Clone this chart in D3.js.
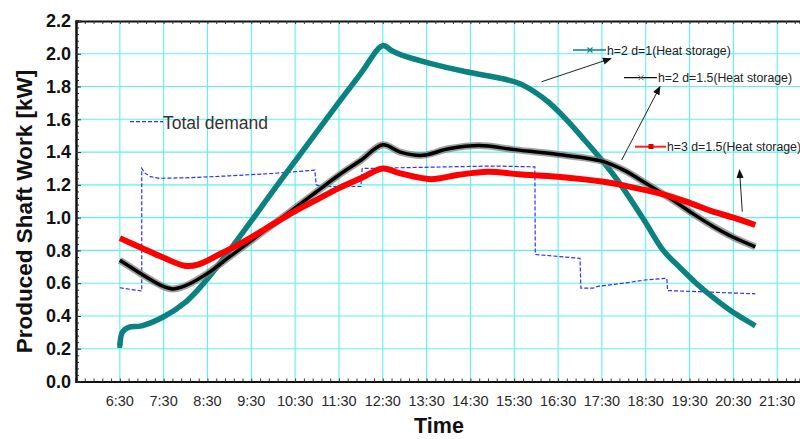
<!DOCTYPE html>
<html>
<head>
<meta charset="utf-8">
<script src="https://cdn.jsdelivr.net/npm/d3@7"></script>
<style>
  html, body { margin: 0; padding: 0; background: #fff; }
  svg { display: block; font-family: "Liberation Sans", Arial, sans-serif; }
</style>
</head>
<body>
<svg id="chart" width="800" height="439"></svg>
<script>
// ---- data (time in decimal hours, values in kW) ----
const xTickHours = [6.5, 7.5, 8.5, 9.5, 10.5, 11.5, 12.5, 13.5, 14.5, 15.5, 16.5, 17.5, 18.5, 19.5, 20.5, 21.5];
const xTickLabels = ["6:30","7:30","8:30","9:30","10:30","11:30","12:30","13:30","14:30","15:30","16:30","17:30","18:30","19:30","20:30","21:30"];
const yTicks = [0.0, 0.2, 0.4, 0.6, 0.8, 1.0, 1.2, 1.4, 1.6, 1.8, 2.0, 2.2];

const tealSeries = [[6.5,0.22],[6.53,0.28],[6.57,0.305],[6.7,0.33],[7.0,0.34],[7.5,0.395],[8.0,0.485],[8.35,0.58],[8.72,0.70],[9.1,0.835],[9.5,0.98],[10.0,1.165],[10.5,1.345],[11.0,1.525],[11.5,1.705],[12.0,1.88],[12.5,2.05],[12.7,2.02],[12.95,1.99],[13.6,1.94],[14.4,1.89],[15.2,1.85],[15.6,1.82],[15.95,1.77],[16.3,1.70],[16.7,1.595],[17.05,1.49],[17.5,1.35],[17.85,1.23],[18.45,0.99],[18.9,0.80],[19.3,0.69],[19.65,0.60],[20.05,0.51],[20.45,0.43],[20.75,0.38],[21.0,0.34]];

const blackSeries = [[6.5,0.74],[7.0,0.655],[7.45,0.585],[7.7,0.565],[8.0,0.585],[8.5,0.66],[9.0,0.76],[9.5,0.86],[10.0,0.96],[10.5,1.06],[11.0,1.16],[11.5,1.26],[12.0,1.35],[12.5,1.445],[12.9,1.40],[13.4,1.38],[14.0,1.42],[14.7,1.44],[15.5,1.415],[16.5,1.385],[17.5,1.345],[18.0,1.29],[18.5,1.21],[19.1,1.11],[19.6,1.02],[20.05,0.945],[20.5,0.88],[21.0,0.822]];

const redSeries = [[6.5,0.875],[7.0,0.815],[7.5,0.755],[8.0,0.705],[8.3,0.715],[8.8,0.78],[9.1,0.82],[9.5,0.88],[10.0,0.96],[10.5,1.04],[11.0,1.11],[11.5,1.18],[12.0,1.24],[12.5,1.30],[12.9,1.27],[13.6,1.235],[14.2,1.26],[14.9,1.28],[15.6,1.265],[16.5,1.25],[17.5,1.22],[18.2,1.185],[19.0,1.135],[19.5,1.09],[20.0,1.04],[20.5,1.0],[21.0,0.955]];

const demandSeries = [[6.5,0.572],[7.0,0.552],[7.0,1.30],[7.08,1.27],[7.2,1.25],[7.4,1.24],[8.0,1.243],[9.0,1.255],[10.0,1.27],[10.95,1.29],[10.98,1.20],[11.1,1.19],[12.0,1.19],[12.03,1.30],[13.0,1.305],[14.0,1.31],[15.0,1.315],[15.97,1.31],[15.98,0.775],[17.0,0.752],[17.02,0.57],[17.3,0.57],[17.4,0.58],[18.0,0.60],[18.5,0.62],[18.98,0.63],[19.0,0.555],[20.0,0.545],[21.0,0.535]];

const seriesNames = ["h=2 d=1(Heat storage)", "h=2 d=1.5(Heat storage)", "h=3 d=1.5(Heat storage)", "Total demand"];

// ---- layout ----
const svg = d3.select("#chart");
const L = 76, T = 21, R = 800, B = 381.5;
const x = d3.scaleLinear().domain([5.5, 22.02]).range([L, R]);
const y = d3.scaleLinear().domain([0, 2.2]).range([B, T]);

svg.append("defs").append("clipPath").attr("id", "clip")
  .append("rect").attr("x", L).attr("y", T).attr("width", R - L).attr("height", B - T);
const mk = svg.select("defs").append("marker").attr("id", "arrow")
  .attr("viewBox", "0 0 10 10").attr("refX", 9).attr("refY", 5)
  .attr("markerWidth", 9).attr("markerHeight", 9).attr("markerUnits", "userSpaceOnUse")
  .attr("orient", "auto");
mk.append("path").attr("d", "M0,1 L10,5 L0,9 Z").attr("fill", "#111");

// grid
const grid = svg.append("g");
grid.selectAll("line.v").data(xTickHours).enter().append("line")
  .attr("x1", d => x(d)).attr("x2", d => x(d)).attr("y1", T).attr("y2", B)
  .attr("stroke", "#5ff0f0").attr("stroke-width", 1.1);
grid.selectAll("line.h").data(yTicks.slice(1, -1)).enter().append("line")
  .attr("x1", L).attr("x2", R).attr("y1", d => y(d)).attr("y2", d => y(d))
  .attr("stroke", "#5ff0f0").attr("stroke-width", 1.1);

// axes with inward ticks
const bottomAxis = d3.axisBottom(x).tickValues(d3.range(5.5, 22.01, 0.2)).tickSize(-3).tickFormat("");
const topAxis = d3.axisTop(x).tickValues(d3.range(5.5, 22.01, 0.2)).tickSize(-3).tickFormat("");
const leftMinor = d3.axisLeft(y).tickValues(d3.range(0, 2.201, 0.04)).tickSize(-3).tickFormat("");
const leftMajor = d3.axisLeft(y).tickValues(yTicks).tickSize(-5).tickFormat(d3.format(".1f")).tickPadding(5);

const gB = svg.append("g").attr("transform", `translate(0,${B})`).call(bottomAxis);
const gT = svg.append("g").attr("transform", `translate(0,${T})`).call(topAxis);
const gLm = svg.append("g").attr("transform", `translate(${L},0)`).call(leftMinor);
const gL = svg.append("g").attr("transform", `translate(${L},0)`).call(leftMajor);
[gB, gT, gLm, gL].forEach(g => {
  g.select(".domain").attr("stroke", "#111").attr("stroke-width", 2);
  g.selectAll(".tick line").attr("stroke", "#333").attr("stroke-width", 1);
});
gL.selectAll(".tick text").attr("font-size", 18).attr("font-weight", "bold")
  .attr("fill", "#111").attr("font-family", "Liberation Sans, Arial, sans-serif");

// x tick labels
svg.append("g").selectAll("text").data(xTickHours).enter().append("text")
  .attr("x", d => x(d)).attr("y", 406).attr("text-anchor", "middle")
  .attr("font-size", 14.5).attr("fill", "#2a2a2a")
  .text((d, i) => xTickLabels[i]);

// axis titles
svg.append("text").attr("transform", "translate(32,211.5) rotate(-90)")
  .attr("text-anchor", "middle").attr("font-size", 22.5).attr("font-weight", "bold")
  .attr("fill", "#111").text("Produced Shaft Work [kW]");
svg.append("text").attr("x", 439).attr("y", 433).attr("text-anchor", "middle")
  .attr("font-size", 21.5).attr("font-weight", "bold").attr("fill", "#111").text("Time");

// series
const plot = svg.append("g").attr("clip-path", "url(#clip)");
const smooth = d3.line().x(d => x(d[0])).y(d => y(d[1])).curve(d3.curveCatmullRom.alpha(0.5));
const straight = d3.line().x(d => x(d[0])).y(d => y(d[1]));

plot.append("path").datum(demandSeries).attr("d", straight)
  .attr("fill", "none").attr("stroke", "#2f2fff").attr("stroke-width", 1.2).attr("stroke-dasharray", "4,2");

plot.append("path").datum(tealSeries).attr("d", smooth)
  .attr("fill", "none").attr("stroke", "#0b8282").attr("stroke-width", 5.5).attr("stroke-linejoin", "round");
plot.append("rect").attr("x", x(tealSeries[0][0]) - 2.5).attr("y", y(tealSeries[0][1]) - 2.5)
  .attr("width", 5).attr("height", 5).attr("fill", "#0b8282");

plot.append("path").datum(blackSeries).attr("d", smooth)
  .attr("fill", "none").attr("stroke", "#777").attr("stroke-opacity", 0.7).attr("stroke-width", 7);
plot.append("path").datum(blackSeries).attr("d", smooth)
  .attr("fill", "none").attr("stroke", "#000").attr("stroke-width", 3.5);

plot.append("path").datum(redSeries).attr("d", smooth)
  .attr("fill", "none").attr("stroke", "#ff0000").attr("stroke-width", 6);

// legends
const leg = svg.append("g").attr("font-size", 12.3).attr("fill", "#222");
// Total demand
leg.append("line").attr("x1", 130).attr("x2", 163).attr("y1", 121.7).attr("y2", 121.7)
  .attr("stroke", "#2f2fff").attr("stroke-width", 1.2).attr("stroke-dasharray", "4,2");
leg.append("text").attr("x", 163).attr("y", 128.5).attr("font-size", 17.5).attr("fill", "#333").text(seriesNames[3]);
// teal
leg.append("line").attr("x1", 573).attr("x2", 606).attr("y1", 50).attr("y2", 50)
  .attr("stroke", "#0b8282").attr("stroke-width", 1.6);
leg.append("path").attr("d", "M587.5,47.5 L592.5,52.5 M592.5,47.5 L587.5,52.5").attr("stroke", "#0b8282").attr("stroke-width", 1.2);
leg.append("text").attr("x", 607).attr("y", 54.5).text(seriesNames[0]);
// black
leg.append("line").attr("x1", 624).attr("x2", 657).attr("y1", 77.7).attr("y2", 77.7)
  .attr("stroke", "#111").attr("stroke-width", 1.2);
leg.append("path").attr("d", "M638.5,75.2 L643.5,80.2 M643.5,75.2 L638.5,80.2").attr("stroke", "#666").attr("stroke-width", 1);
leg.append("text").attr("x", 658).attr("y", 82).text(seriesNames[1]);
// red
leg.append("line").attr("x1", 635).attr("x2", 666).attr("y1", 146.7).attr("y2", 146.7)
  .attr("stroke", "#ff2020").attr("stroke-width", 2);
leg.append("rect").attr("x", 648.5).attr("y", 144).attr("width", 5).attr("height", 5).attr("fill", "#e00000");
leg.append("text").attr("x", 667).attr("y", 151).text(seriesNames[2]);

// arrows
const arrows = [[541.7, 81.7, 611, 58.5], [621.7, 160, 660, 86.5], [742.3, 211.7, 739.5, 170]];
svg.append("g").selectAll("line").data(arrows).enter().append("line")
  .attr("x1", d => d[0]).attr("y1", d => d[1]).attr("x2", d => d[2]).attr("y2", d => d[3])
  .attr("stroke", "#222").attr("stroke-width", 1).attr("marker-end", "url(#arrow)");
</script>
</body>
</html>
